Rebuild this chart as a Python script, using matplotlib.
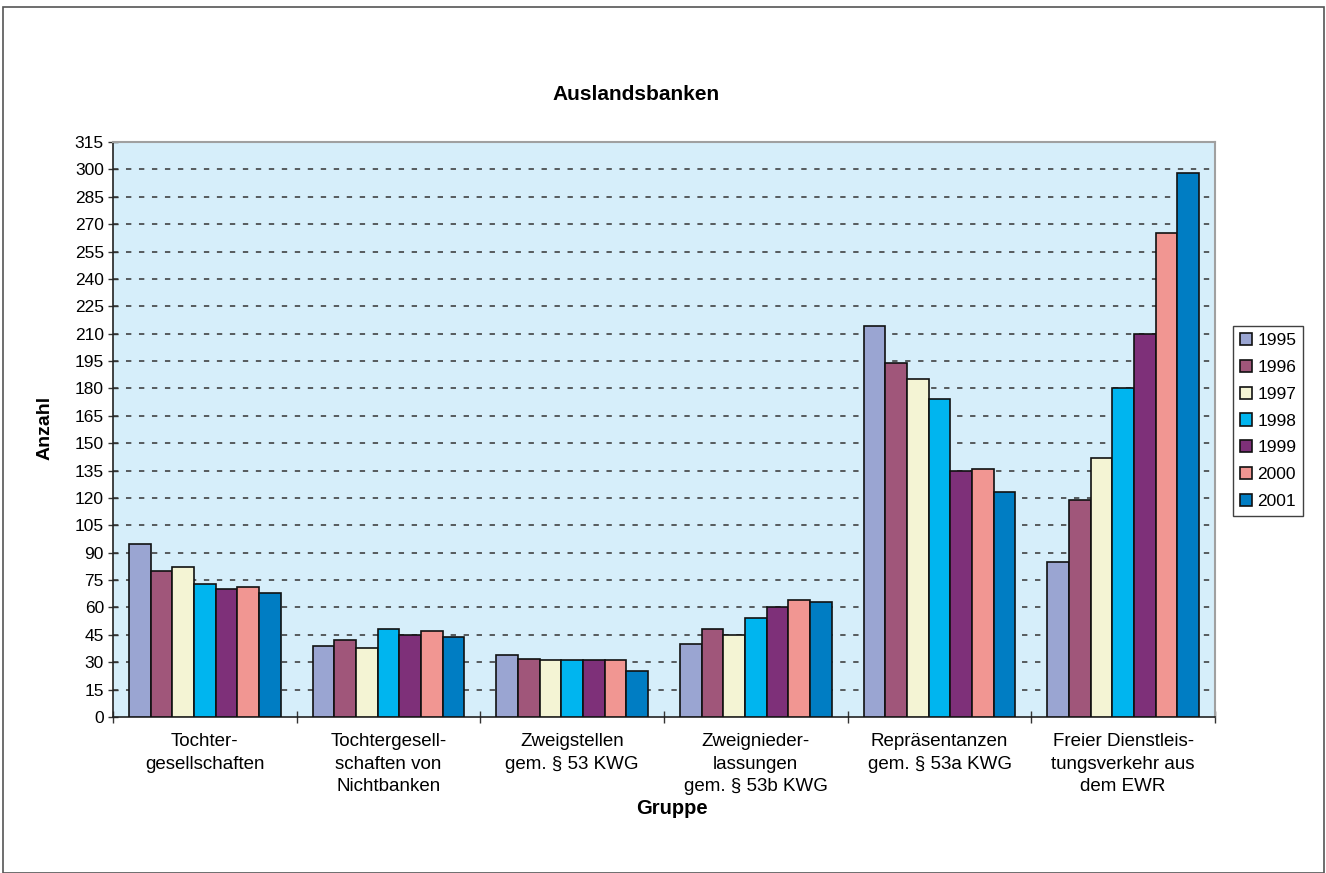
import matplotlib
matplotlib.use("Agg")
import matplotlib.pyplot as plt
from matplotlib.patches import Rectangle
import numpy as np

plt.rcParams['font.family'] = ['Liberation Sans', 'DejaVu Sans']

categories = ["Tochter-\ngesellschaften",
              "Tochtergesell-\nschaften von\nNichtbanken",
              "Zweigstellen\ngem. § 53 KWG",
              "Zweignieder-\nlassungen\ngem. § 53b KWG",
              "Repräsentanzen\ngem. § 53a KWG",
              "Freier Dienstleis-\ntungsverkehr aus\ndem EWR"]
years = ["1995", "1996", "1997", "1998", "1999", "2000", "2001"]
v1995 = [95, 39, 34, 40, 214, 85]
v1996 = [80, 42, 32, 48, 194, 119]
v1997 = [82, 38, 31, 45, 185, 142]
v1998 = [73, 48, 31, 54, 174, 180]
v1999 = [70, 45, 31, 60, 135, 210]
v2000 = [71, 47, 31, 64, 136, 265]
v2001 = [68, 44, 25, 63, 123, 298]
series = [v1995, v1996, v1997, v1998, v1999, v2000, v2001]
colors = ["#9AA5D2", "#A0567A", "#F4F4D4", "#00B5EF", "#7E3079", "#F19692", "#007DC3"]
yticks = list(range(0, 316, 15))

W, H = 1326, 873
fig = plt.figure(figsize=(W/100, H/100), dpi=100)
fig.patches.append(Rectangle((3/W, 0), (1324-3)/W, 1-7/H, transform=fig.transFigure,
                             fill=False, edgecolor="#555555", linewidth=1.2))

ax = fig.add_axes([113/W, 1-717/H, (1215-113)/W, (717-142)/H])
ax.set_facecolor("#D6EEFA")

n = len(series)
bw = 0.118
x = np.arange(len(categories)) + 0.5
for i, (vals, c, yr) in enumerate(zip(series, colors, years)):
    ax.bar(x + (i - (n-1)/2) * bw, vals, width=bw, color=c, edgecolor="#111111",
           linewidth=1.2, label=yr, zorder=3)

ax.set_xlim(0, len(categories))
ax.set_ylim(0, 315)
ax.set_yticks(yticks)
ax.set_yticklabels([str(t) for t in yticks], fontsize=12.5)
ax.set_xticks(np.arange(len(categories)+1))
ax.set_xticklabels([])
ax.tick_params(axis='x', direction='inout', length=8, width=1, color="#333333")
ax.tick_params(axis='y', direction='inout', length=7, width=1, color="#333333", pad=3)
for xi, lab in zip(x, categories):
    ax.text(xi, -9, lab, ha='center', va='top', fontsize=13.5, linespacing=1.42,
            transform=ax.transData)

for t in yticks[1:-1]:
    ax.axhline(t, color="#333333", linewidth=1.1, linestyle=(0, (3.5, 5)), zorder=1)

for s in ['left', 'bottom']:
    ax.spines[s].set_color("#222222")
    ax.spines[s].set_linewidth(1.2)
for s in ['top', 'right']:
    ax.spines[s].set_color("#A0A0A0")
    ax.spines[s].set_linewidth(1.5)

fig.text(636/W, 1-95/H, "Auslandsbanken", ha='center', va='center', fontsize=15, fontweight='bold')
fig.text(672/W, 1-808/H, "Gruppe", ha='center', va='center', fontsize=14.5, fontweight='bold')
fig.text(45/W, 1-428/H, "Anzahl", ha='center', va='center', fontsize=14, fontweight='bold', rotation=90)

leg = ax.legend(loc='center left', bbox_to_anchor=(1233/W, 1-421/H), bbox_transform=fig.transFigure,
                fontsize=12.5, frameon=True, fancybox=False, handlelength=0.7, handleheight=0.7,
                handletextpad=0.3, borderpad=0.4, labelspacing=0.67, borderaxespad=0)
leg.get_frame().set_edgecolor("#111111")
leg.get_frame().set_linewidth(1.0)

fig.savefig("out.png", dpi=100)
